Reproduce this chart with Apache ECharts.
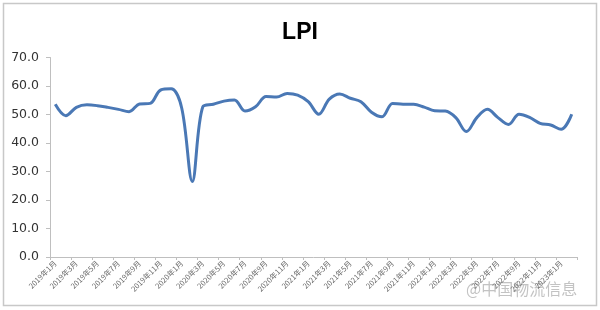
<!DOCTYPE html>
<html>
<head>
<meta charset="utf-8">
<script src="https://cdn.jsdelivr.net/npm/echarts@6/dist/echarts.min.js"></script>
<style>
html,body{margin:0;padding:0;background:#fff;}
#c{width:600px;height:310px;}
</style>
</head>
<body>
<div id="c"></div>
<script>
// Categories: monthly, 2019-01 .. 2023-02
const months = [];
for (let y = 2019; y <= 2023; y++) {
  for (let m = 1; m <= 12; m++) {
    if (y === 2023 && m > 2) break;
    months.push(y + '年' + m + '月');
  }
}
const lpiValues = [
  53.6, 49.6, 52.5, 53.4, 53.1, 52.5, 51.8, 51.0, 53.7, 53.9,
  58.6, 59.0, 52.2, 26.5, 52.7, 53.6, 54.7, 55.1, 51.2, 52.7,
  56.3, 56.1, 57.4, 56.8, 54.5, 50.1, 55.4, 57.2, 55.7, 54.5,
  50.8, 49.2, 53.9, 53.6, 53.6, 52.6, 51.3, 51.2, 48.9, 44.0,
  48.9, 51.8, 48.9, 46.5, 50.1, 49.0, 46.9, 46.3, 44.8, 50.1
];
const yTicks = [0, 10, 20, 30, 40, 50, 60, 70];

const chart = echarts.init(document.getElementById('c'));
chart.setOption({
  animation: false,
  backgroundColor: '#ffffff',
  title: {
    text: 'LPI',
    left: 'center',
    top: 16,
    textStyle: { fontFamily: 'Liberation Sans Narrow, Liberation Sans', fontWeight: 'bold', fontSize: 23, color: '#000' }
  },
  grid: { left: 50, right: 23, top: 57.5, bottom: 53 },
  xAxis: {
    type: 'category',
    data: months,
    boundaryGap: true,
    axisLine: { lineStyle: { color: '#bfbfbf', width: 1 } },
    axisTick: { show: true, interval: 1, length: 3, lineStyle: { color: '#bfbfbf' } },
    axisLabel: {
      interval: 1,
      rotate: 45,
      fontSize: 7.5,
      color: '#666666',
      fontFamily: 'Noto Sans CJK SC',
      margin: 5
    },
    splitLine: { show: false }
  },
  yAxis: {
    type: 'value',
    min: yTicks[0],
    max: yTicks[yTicks.length - 1],
    interval: 10,
    axisLine: { show: true, lineStyle: { color: '#bfbfbf', width: 1 } },
    axisTick: { show: true, length: 4, lineStyle: { color: '#bfbfbf' } },
    axisLabel: {
      formatter: v => v.toFixed(1),
      fontSize: 12.5,
      color: '#333333',
      fontFamily: 'DejaVu Sans',
      margin: 11
    },
    splitLine: { show: false }
  },
  series: [{
    type: 'line',
    data: lpiValues,
    smooth: 0.35,
    symbol: 'none',
    lineStyle: { color: '#4a78b5', width: 3 },
    itemStyle: { color: '#4a78b5' }
  }],
  graphic: [
    {
      type: 'rect',
      shape: { x: 3.5, y: 3.5, width: 593, height: 302 },
      style: { fill: 'none', stroke: '#c8c8c8', lineWidth: 1.5 },
      silent: true
    },
    {
      type: 'text',
      left: 466,
      top: 281,
      style: {
        text: '@中国物流信息',
        font: '16px "Noto Sans CJK SC"',
        fill: 'rgba(170,170,170,0.7)'
      },
      silent: true
    }
  ]
});
</script>
</body>
</html>
